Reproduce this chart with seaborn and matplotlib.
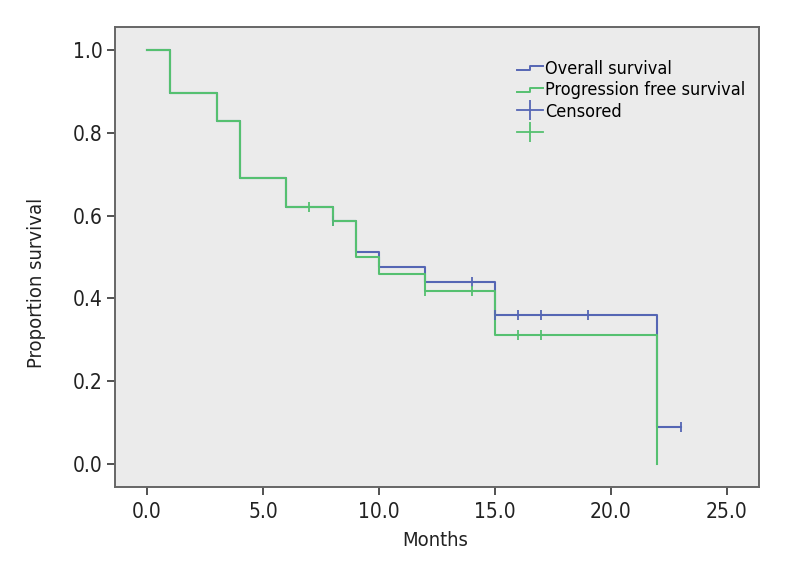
"""Kaplan-Meier style plot: overall vs progression free survival."""

import numpy as np
import pandas as pd
import seaborn as sns
import matplotlib.pyplot as plt
from matplotlib.lines import Line2D
from matplotlib.legend_handler import HandlerBase
from matplotlib import font_manager

# Survival step data (time in months, proportion surviving)
os_times = [0, 1, 3, 4, 6, 8, 9, 10, 12, 15, 22, 23]
os_surv = [1.0, 0.897, 0.828, 0.69, 0.621, 0.586, 0.512, 0.476, 0.44, 0.36, 0.09, 0.09]
pfs_times = [0, 1, 3, 4, 6, 8, 9, 10, 12, 15, 22]
pfs_surv = [1.0, 0.897, 0.828, 0.69, 0.621, 0.586, 0.5, 0.458, 0.417, 0.312, 0.0]

# Censored observations (months)
os_censored = [8, 14, 15, 16, 17, 19, 23]
pfs_censored = [7, 8, 12, 14, 16, 17]

x_ticks = [0, 5, 10, 15, 20, 25]
y_ticks = [0.0, 0.2, 0.4, 0.6, 0.8, 1.0]

BLUE = '#5566b4'
GREEN = '#55c070'

###################################################################################################


def step_value(times, surv, t):
    """Survival value of a right-continuous step function at time t."""
    idx = np.searchsorted(times, t, side='right') - 1
    return surv[idx]


class StepHandler(HandlerBase):
    """Legend handle drawn as a small step, like SPSS output."""

    def create_artists(self, legend, orig_handle, xdescent, ydescent,
                       width, height, fontsize, trans):
        x0, x1 = -xdescent, -xdescent + width
        y_lo, y_hi = -ydescent + 0.3 * height, -ydescent + 0.62 * height
        xm = x0 + 0.5 * width
        line = Line2D([x0, xm, xm, x1], [y_lo, y_lo, y_hi, y_hi],
                      color=orig_handle.get_color(),
                      lw=orig_handle.get_linewidth(), transform=trans)
        return [line]


fam = ['DejaVu Sans']

curves = pd.concat([
    pd.DataFrame({'time': os_times, 'surv': os_surv, 'group': 'Overall survival'}),
    pd.DataFrame({'time': pfs_times, 'surv': pfs_surv, 'group': 'Progression free survival'}),
])
censors = pd.concat([
    pd.DataFrame({'time': os_censored,
                  'surv': [step_value(os_times, os_surv, t) for t in os_censored],
                  'group': 'Overall survival'}),
    pd.DataFrame({'time': pfs_censored,
                  'surv': [step_value(pfs_times, pfs_surv, t) for t in pfs_censored],
                  'group': 'Progression free survival'}),
])
palette = {'Overall survival': BLUE, 'Progression free survival': GREEN}

fig = plt.figure(figsize=(7.96, 5.62), dpi=100)
ax = fig.add_axes([0.1445, 0.1335, 0.809, 0.8185])
ax.set_facecolor('#ebebeb')

sns.lineplot(data=curves, x='time', y='surv', hue='group', palette=palette,
             drawstyle='steps-post', estimator=None, sort=False, lw=1.5,
             legend=False, ax=ax)
sns.scatterplot(data=censors, x='time', y='surv', hue='group', palette=palette,
                marker='|', s=50, linewidth=1.3, legend=False, ax=ax, zorder=3)

ax.set_xlim(-1.38, 26.38)
ax.set_ylim(-0.0556, 1.0556)
ax.set_xticks(x_ticks)
ax.set_xticklabels([f'{v:.1f}' for v in x_ticks])
ax.set_yticks(y_ticks)
ax.set_yticklabels([f'{v:.1f}' for v in y_ticks])

ax.set_xlabel('Months', fontsize=14.5, family=fam, fontstretch='condensed',
              color='#222222', va='center')
ax.set_ylabel('Proportion survival', fontsize=14.5, family=fam,
              fontstretch='condensed', color='#222222', va='center')
ax.xaxis.set_label_coords(0.497, -0.117)
ax.yaxis.set_label_coords(-0.1227, 0.443)
for lab in ax.get_xticklabels() + ax.get_yticklabels():
    lab.set_family(fam)
    lab.set_stretch('condensed')
    lab.set_fontsize(15)
    lab.set_color('#222222')
ax.tick_params(direction='out', length=6, width=1.2, color='#333333')
ax.tick_params(axis='x', pad=5)
ax.tick_params(axis='y', pad=3)

for sp in ax.spines.values():
    sp.set_color('#666666')
    sp.set_linewidth(1.4)

# Legend
handles = [
    Line2D([], [], color=BLUE, lw=1.4),
    Line2D([], [], color=GREEN, lw=1.4),
    Line2D([], [], color=BLUE, lw=1.3, marker='|', ms=14, mew=1.3),
    Line2D([], [], color=GREEN, lw=1.3, marker='|', ms=14, mew=1.3),
]
labels = ['Overall survival', 'Progression free survival', 'Censored', '']
ax.legend(handles, labels, loc='upper left', bbox_to_anchor=(0.624, 0.928),
          frameon=False, handlelength=1.45, handletextpad=0.1, labelspacing=0.18,
          borderaxespad=0, borderpad=0, numpoints=1,
          prop=font_manager.FontProperties(family=fam, stretch='condensed', size=13),
          handler_map={handles[0]: StepHandler(), handles[1]: StepHandler()})

fig.savefig('out.png', dpi=100)
